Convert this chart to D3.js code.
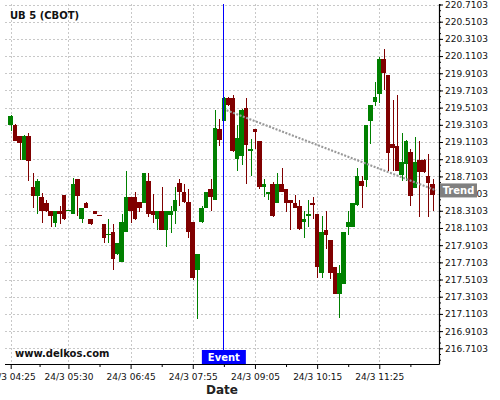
<!DOCTYPE html>
<html lang="en">
<head>
  <meta charset="UTF-8">
  <title>UB 5 (CBOT)</title>
  <script src="https://d3js.org/d3.v7.min.js"></script>
  <style>
    body { margin: 0; background: #fff; }
    text { font-family: "DejaVu Sans", sans-serif; }
  </style>
</head>
<body>
  <script>
    // 5 minute candles
    let opens = [219.314, 219.314, 219.186, 218.905, 219.186, 218.590, 218.477, 218.473, 218.403, 218.306,
      218.166, 218.306, 218.497, 218.310, 218.278, 218.684, 218.220, 218.403, 218.216, 218.310,
      218.263, 218.158, 218.029, 218.064, 217.808, 217.714, 218.064, 218.473, 218.473, 218.407,
      218.403, 218.660, 218.310, 218.220, 218.310, 218.091, 218.260, 218.310, 218.629, 218.532,
      218.407, 218.181, 217.624, 218.181, 218.345, 218.567, 218.438, 219.259, 219.353, 219.626,
      219.626, 218.909, 218.944, 219.501, 219.002, 219.259, 219.127, 218.590, 218.500, 218.625,
      218.403, 218.625, 218.567, 218.435, 218.403, 218.368, 218.185, 218.255, 218.403, 218.278,
      217.589, 218.088, 217.971, 217.656, 217.344, 217.461, 218.126, 218.126, 218.372, 218.660,
      218.664, 219.353, 219.571, 219.668, 220.074, 219.887, 219.089, 219.065, 218.722, 218.855,
      218.999, 218.570, 218.905, 218.905, 218.719, 218.622]
    let closes = [219.408, 219.127, 219.096, 219.186, 218.885, 218.477, 218.660, 218.310, 218.310, 218.251,
      218.306, 218.278, 218.220, 218.321, 218.625, 218.477, 218.345, 218.348, 218.158, 218.278,
      218.251, 217.994, 218.041, 217.749, 217.936, 218.181, 218.473, 218.310, 218.216, 218.348,
      218.754, 218.275, 218.260, 218.310, 218.091, 218.310, 218.310, 218.438, 218.532, 218.407,
      218.068, 217.527, 217.808, 218.345, 218.532, 218.473, 219.279, 219.131, 219.626, 219.536,
      219.002, 219.162, 219.482, 219.072, 219.034, 219.224, 218.590, 218.625, 218.532, 218.251,
      218.625, 218.532, 218.403, 218.400, 218.348, 218.096, 218.220, 218.278, 218.372, 217.659,
      218.064, 218.033, 217.589, 217.344, 217.586, 218.064, 218.181, 218.403, 218.719, 218.594,
      219.314, 219.536, 219.630, 220.074, 219.914, 218.979, 219.042, 218.777, 218.879, 219.127,
      218.477, 218.882, 218.757, 218.757, 218.629, 218.497]
    let highs = [219.420, 219.320, 219.186, 219.190, 219.217, 218.750, 218.680, 218.517, 218.435, 218.306,
      218.306, 218.368, 218.497, 218.325, 218.687, 218.684, 218.345, 218.410, 218.216, 218.310,
      218.263, 218.158, 218.213, 218.154, 217.936, 218.271, 218.777, 218.473, 218.532, 218.407,
      218.754, 218.750, 218.508, 218.310, 218.590, 218.310, 218.368, 218.590, 218.680, 218.622,
      218.563, 218.181, 217.808, 218.368, 218.532, 218.680, 219.478, 219.381, 219.630, 219.630,
      219.661, 219.311, 219.490, 219.626, 219.147, 219.260, 219.127, 218.680, 218.532, 218.640,
      218.754, 218.812, 218.567, 218.435, 218.497, 218.435, 218.310, 218.435, 218.473, 218.278,
      218.251, 218.310, 217.971, 217.656, 217.675, 218.064, 218.310, 218.403, 218.809, 218.719,
      219.314, 219.540, 219.809, 220.101, 220.187, 219.887, 219.595, 219.661, 219.217, 219.130,
      219.030, 219.166, 219.127, 218.910, 218.972, 218.684]
    let lows = [219.244, 219.120, 218.905, 218.900, 218.652, 218.341, 218.275, 218.173, 218.300, 218.123,
      218.123, 218.154, 218.208, 218.305, 218.275, 218.251, 218.173, 218.340, 218.146, 218.270,
      218.251, 217.939, 217.939, 217.617, 217.800, 217.714, 218.064, 218.173, 218.205, 218.298,
      218.400, 218.240, 218.173, 218.084, 218.090, 217.893, 218.056, 218.161, 218.368, 218.400,
      217.991, 217.500, 217.057, 218.173, 218.340, 218.306, 218.438, 219.061, 219.350, 219.530,
      219.000, 218.769, 218.839, 218.622, 218.710, 219.030, 218.559, 218.465, 218.430, 218.240,
      218.400, 218.530, 218.298, 218.084, 218.340, 218.090, 217.991, 218.126, 218.213, 217.524,
      217.524, 217.862, 217.519, 217.340, 217.060, 217.460, 218.026, 218.120, 218.370, 218.345,
      218.582, 219.089, 219.533, 219.563, 219.720, 218.777, 218.769, 218.770, 218.660, 218.660,
      218.368, 218.570, 218.243, 218.750, 218.243, 218.310]

    // axis ticks (candle index -> label)
    let xTickIdx = [0, 13, 27, 41, 55, 69, 83]
    let xTickLabels = ['24/3 04:25', '24/3 05:30', '24/3 06:45', '24/3 07:55', '24/3 09:05', '24/3 10:15', '24/3 11:25']
    let yTicks = [216.7103, 216.9103, 217.1103, 217.3103, 217.5103, 217.7103, 217.9103, 218.1103, 218.3103, 218.5103,
      218.7103, 218.9103, 219.1103, 219.3103, 219.5103, 219.7103, 219.9103, 220.1103, 220.3103, 220.5103, 220.7103]

    let eventIdx = 48
    let trendIdx = [48.6, 95.8]
    let trendVal = [219.48, 218.547]

    let pLeft = 5, pRight = 439, pTop = 4, pBottom = 364

    let svg = d3.select('body')
      .append('svg')
      .attr('width', 500)
      .attr('height', 400)

    let x = d3.scaleLinear().domain([0, 83]).range([10.7, 379.3])
    let y = d3.scaleLinear().domain([216.7103, 220.7103]).range([348.3, 4.5])

    svg.append('clipPath').attr('id', 'plot')
      .append('rect').attr('x', 0).attr('y', pTop).attr('width', pRight).attr('height', pBottom - pTop)

    // grid
    let grid = svg.append('g')
      .attr('stroke', '#c8c8c8')
      .attr('stroke-dasharray', '2,2')
      .attr('shape-rendering', 'crispEdges')
    grid.selectAll('.hg').data(yTicks).enter().append('line')
      .attr('x1', pLeft).attr('x2', pRight)
      .attr('y1', d => Math.round(y(d)) + 0.5).attr('y2', d => Math.round(y(d)) + 0.5)
    grid.selectAll('.vg').data(xTickIdx).enter().append('line')
      .attr('y1', pTop).attr('y2', pBottom)
      .attr('x1', d => Math.round(x(d)) + 0.5).attr('x2', d => Math.round(x(d)) + 0.5)

    // candles
    let idx = d3.range(opens.length)
    let color = i => closes[i] >= opens[i] ? '#008000' : '#800000'
    let bw = 4.6
    let candles = svg.append('g').attr('clip-path', 'url(#plot)').attr('shape-rendering', 'crispEdges')
    candles.selectAll('line').data(idx).enter().append('line')
      .attr('x1', i => Math.round(x(i)) + 0.5).attr('x2', i => Math.round(x(i)) + 0.5)
      .attr('y1', i => y(highs[i])).attr('y2', i => y(lows[i]))
      .attr('stroke', color)
    candles.selectAll('rect').data(idx).enter().append('rect')
      .attr('x', i => x(i) - bw / 2)
      .attr('width', bw)
      .attr('y', i => y(Math.max(opens[i], closes[i])))
      .attr('height', i => Math.max(1, Math.abs(y(opens[i]) - y(closes[i]))))
      .attr('fill', color)

    // trend line
    svg.append('line')
      .attr('x1', x(trendIdx[0])).attr('y1', y(trendVal[0]))
      .attr('x2', x(trendIdx[1])).attr('y2', y(trendVal[1]))
      .attr('stroke', '#999').attr('stroke-width', 2).attr('stroke-dasharray', '2,1.5')

    // event line
    svg.append('line')
      .attr('x1', Math.round(x(eventIdx)) - 0.5).attr('x2', Math.round(x(eventIdx)) - 0.5)
      .attr('y1', pTop).attr('y2', pBottom)
      .attr('stroke', '#0000ff')

    // y axis on the right
    let yMinor = d3.range(-2, 61).map(k => 216.7103 + k * 0.2 / 3).filter(v => y(v) <= pBottom && y(v) >= pTop)
    svg.append('g').attr('transform', `translate(${pRight},0)`)
      .call(d3.axisRight(y).tickValues(yMinor).tickSize(2).tickFormat(''))
      .call(g => g.select('.domain').remove())
    let yAxis = svg.append('g').attr('transform', `translate(${pRight},0)`)
      .call(d3.axisRight(y).tickValues(yTicks).tickSize(4).tickPadding(2).tickFormat(d3.format('.4f')))
    yAxis.select('.domain').remove()
    yAxis.selectAll('text').attr('font-size', 9).attr('font-family', 'DejaVu Sans').attr('fill', '#111')

    // x axis at bottom
    let xMinor = xTickIdx.slice(0, -1).map((d, i) => (d + xTickIdx[i + 1]) / 2).concat([90])
    svg.append('g').attr('transform', `translate(0,${pBottom})`)
      .call(d3.axisBottom(x).tickValues(xMinor).tickSize(3).tickFormat(''))
      .call(g => g.select('.domain').remove())
    let xAxis = svg.append('g').attr('transform', `translate(0,${pBottom})`)
      .call(d3.axisBottom(x).tickValues(xTickIdx).tickSize(5).tickPadding(5).tickFormat((d, i) => xTickLabels[i]))
    xAxis.select('.domain').remove()
    xAxis.selectAll('text').attr('font-size', 9).attr('font-family', 'DejaVu Sans').attr('fill', '#111')

    // frame lines
    svg.append('line').attr('x1', pRight + 0.5).attr('x2', pRight + 0.5).attr('y1', pTop).attr('y2', pBottom + 0.5)
      .attr('stroke', '#000').attr('stroke-width', 1.2)
    svg.append('line').attr('x1', pLeft).attr('x2', pRight + 0.5).attr('y1', pBottom + 0.5).attr('y2', pBottom + 0.5)
      .attr('stroke', '#000').attr('stroke-width', 1.2)

    // labels
    svg.append('text').attr('x', 10).attr('y', 19).text('UB 5 (CBOT)')
      .attr('font-size', 10).attr('font-weight', 'bold').attr('fill', '#111')
    svg.append('text').attr('x', 15).attr('y', 357).text('www.delkos.com')
      .attr('font-size', 10).attr('font-weight', 'bold').attr('fill', '#111')
    svg.append('text').attr('x', 222).attr('y', 393.5).attr('text-anchor', 'middle').text('Date')
      .attr('font-size', 12).attr('font-weight', 'bold').attr('fill', '#222')

    let ex = x(eventIdx)
    svg.append('rect').attr('x', ex - 22).attr('y', 350).attr('width', 44).attr('height', 14).attr('fill', '#0000ff')
    svg.append('text').attr('x', ex).attr('y', 361).attr('text-anchor', 'middle').text('Event')
      .attr('font-size', 10).attr('font-weight', 'bold').attr('fill', '#fff')

    let ty = y(trendVal[1])
    svg.append('rect').attr('x', pRight + 1).attr('y', ty - 7).attr('width', 37).attr('height', 14).attr('fill', '#808080')
    svg.append('text').attr('x', pRight + 19.5).attr('y', ty + 3.5).attr('text-anchor', 'middle').text('Trend')
      .attr('font-size', 10).attr('font-weight', 'bold').attr('fill', '#fff')
  </script>
</body>
</html>
